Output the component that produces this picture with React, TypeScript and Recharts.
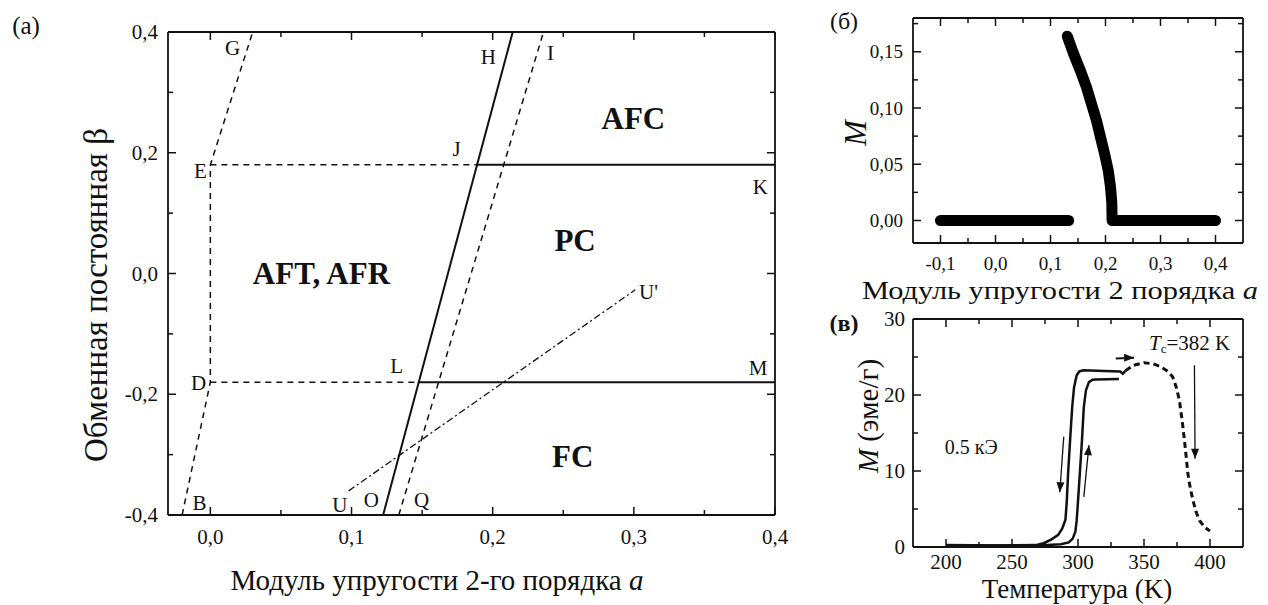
import React from 'react';
import { ComposedChart, Line, Scatter, XAxis, YAxis } from 'recharts';

const SERIF = '"Liberation Serif", "Times New Roman", serif';
const INK = '#111';

// ---- (a) phase diagram: beta vs a ----
const aXMajor = [0, 0.1, 0.2, 0.3, 0.4];
const aXTicks = [0, 0.05, 0.1, 0.15, 0.2, 0.25, 0.3, 0.35, 0.4];
const aYMajor = [-0.4, -0.2, 0, 0.2, 0.4];
const aYTicks = [-0.4, -0.3, -0.2, -0.1, 0, 0.1, 0.2, 0.3, 0.4];

const lineBDEG = [{ x: -0.02, y: -0.4 }, { x: 0, y: -0.18 }, { x: 0, y: 0.18 }, { x: 0.03, y: 0.4 }];
const lineEJ = [{ x: 0, y: 0.18 }, { x: 0.188, y: 0.18 }];
const lineJK = [{ x: 0.188, y: 0.18 }, { x: 0.4, y: 0.18 }];
const lineDL = [{ x: 0, y: -0.18 }, { x: 0.147, y: -0.18 }];
const lineLM = [{ x: 0.147, y: -0.18 }, { x: 0.4, y: -0.18 }];
const lineOH = [{ x: 0.1224, y: -0.4 }, { x: 0.2142, y: 0.4 }];
const lineQI = [{ x: 0.1335, y: -0.4 }, { x: 0.236, y: 0.4 }];
const lineUU = [{ x: 0.098, y: -0.36 }, { x: 0.301, y: -0.027 }];

const pointLabels = [
  { x: 0.0158, y: 0.373, t: 'G' },
  { x: 0.197, y: 0.358, t: 'H' },
  { x: 0.241, y: 0.366, t: 'I' },
  { x: -0.007, y: 0.17, t: 'E' },
  { x: 0.1745, y: 0.207, t: 'J' },
  { x: 0.3896, y: 0.143, t: 'K' },
  { x: -0.0083, y: -0.181, t: 'D' },
  { x: 0.132, y: -0.154, t: 'L' },
  { x: 0.388, y: -0.157, t: 'M' },
  { x: -0.0076, y: -0.38, t: 'B' },
  { x: 0.0917, y: -0.383, t: 'U' },
  { x: 0.114, y: -0.375, t: 'O' },
  { x: 0.1496, y: -0.375, t: 'Q' },
  { x: 0.3104, y: -0.0304, t: "U'" },
];
const regionLabels = [
  { x: 0.2997, y: 0.256, t: 'AFC' },
  { x: 0.2584, y: 0.055, t: 'PC' },
  { x: 0.0787, y: 0.0, t: 'AFT, AFR' },
  { x: 0.2567, y: -0.303, t: 'FC' },
];

// ---- (б) M vs a ----
const bXMajor = [-0.1, 0, 0.1, 0.2, 0.3, 0.4];
const bXTicks = [-0.1, -0.05, 0, 0.05, 0.1, 0.15, 0.2, 0.25, 0.3, 0.35, 0.4];
const bYMajor = [0, 0.05, 0.1, 0.15];
const bYTicks = [0, 0.025, 0.05, 0.075, 0.1, 0.125, 0.15, 0.175];
const mZero = [{ x: -0.1, y: 0 }, { x: 0.133, y: 0 }];
const mBranch = [
  { x: 0.1304, y: 0.1638 }, { x: 0.1424, y: 0.1477 }, { x: 0.1545, y: 0.133 }, { x: 0.1655, y: 0.1183 },
  { x: 0.1745, y: 0.1036 }, { x: 0.1836, y: 0.0889 }, { x: 0.1909, y: 0.0741 }, { x: 0.1982, y: 0.0595 },
  { x: 0.2049, y: 0.0447 }, { x: 0.2091, y: 0.03 }, { x: 0.2115, y: 0.0154 }, { x: 0.212, y: 0 },
  { x: 0.4, y: 0 },
];

// ---- (в) M vs T ----
const cXMajor = [200, 250, 300, 350, 400];
const cXTicks = [200, 225, 250, 275, 300, 325, 350, 375, 400];
const cYMajor = [0, 10, 20, 30];
const cYTicks = [0, 5, 10, 15, 20, 25, 30];
const cooling = [
  { x: 200, y: 0.25 }, { x: 240, y: 0.2 }, { x: 268, y: 0.25 }, { x: 274, y: 0.5 }, { x: 280, y: 1.0 },
  { x: 285, y: 1.6 }, { x: 288, y: 2.4 }, { x: 290.5, y: 3.6 }, { x: 291.5, y: 6 }, { x: 292.5, y: 9.7 },
  { x: 294, y: 14 }, { x: 295.6, y: 18.4 }, { x: 297, y: 21 }, { x: 299, y: 22.6 }, { x: 301, y: 23.1 },
  { x: 304, y: 23.25 }, { x: 320, y: 23.15 }, { x: 332, y: 23.1 }, { x: 334, y: 22.8 }, { x: 336, y: 23.2 },
];
const heating = [
  { x: 200, y: 0.2 }, { x: 270, y: 0.2 }, { x: 287, y: 0.35 }, { x: 293, y: 0.6 }, { x: 296, y: 1.1 },
  { x: 298, y: 2 }, { x: 299, y: 3.5 }, { x: 300, y: 6 }, { x: 301.4, y: 9.7 }, { x: 303, y: 14 },
  { x: 304.4, y: 18.4 }, { x: 306, y: 20.6 }, { x: 308.3, y: 21.7 }, { x: 311, y: 22.0 },
  { x: 313.4, y: 22.05 }, { x: 331, y: 22.1 },
];
const aboveTc = [
  { x: 336, y: 23.2 }, { x: 342, y: 23.9 }, { x: 350, y: 24.25 }, { x: 357, y: 24.1 }, { x: 363, y: 23.7 },
  { x: 368, y: 23.1 }, { x: 371.7, y: 22.4 }, { x: 374.5, y: 21 }, { x: 376.8, y: 19.3 }, { x: 379, y: 16.5 },
  { x: 380.6, y: 14.1 }, { x: 382, y: 11.8 }, { x: 383.2, y: 9.7 }, { x: 385, y: 7.8 }, { x: 387, y: 6.2 },
  { x: 389.5, y: 4.6 }, { x: 392, y: 3.5 }, { x: 396, y: 2.6 }, { x: 400, y: 2.1 },
];
const arrowCool = [{ x: 289.2, y: 14.5 }, { x: 286.2, y: 7.2 }];
const arrowHeat = [{ x: 304.4, y: 6.6 }, { x: 308.3, y: 13.4 }];
const arrowRight = [{ x: 328.6, y: 24.8 }, { x: 342.5, y: 24.9 }];
const arrowTc = [{ x: 388.2, y: 23.9 }, { x: 388.7, y: 11.6 }];
const arrowHeads = [
  { x: 286.2, y: 7.2, ang: 94 },
  { x: 308.3, y: 13.4, ang: -84 },
  { x: 342.5, y: 24.9, ang: 0 },
  { x: 388.7, y: 11.6, ang: 90 },
];
const cNotes = [
  { x: 353.8, y: 26.8, t: 'tc' },
  { x: 199, y: 13.1, t: '0.5 кЭ' },
];

type Side = 'bottom' | 'left' | 'top' | 'right';

function tickRenderer(side: Side, majors: number[], fmt: ((v: number) => string) | null, fontSize: number, gap: number) {
  return (props: any) => {
    const { x, y, payload } = props;
    const v = payload.value;
    const major = majors.some((m) => Math.abs(m - v) < 1e-9);
    const len = major ? 8 : 5;
    let l = { x2: x, y2: y };
    if (side === 'bottom') l = { x2: x, y2: y - len };
    if (side === 'top') l = { x2: x, y2: y + len };
    if (side === 'left') l = { x2: x + len, y2: y };
    if (side === 'right') l = { x2: x - len, y2: y };
    return (
      <g>
        <line x1={x} y1={y} x2={l.x2} y2={l.y2} stroke={INK} strokeWidth={1.5} />
        {major && fmt && side === 'bottom' && (
          <text x={x} y={y + gap} textAnchor="middle" dominantBaseline="central" fontFamily={SERIF} fontSize={fontSize} fill={INK}>
            {fmt(v)}
          </text>
        )}
        {major && fmt && side === 'left' && (
          <text x={x - gap} y={y} textAnchor="end" dominantBaseline="central" fontFamily={SERIF} fontSize={fontSize} fill={INK}>
            {fmt(v)}
          </text>
        )}
      </g>
    );
  };
}

const comma = (d: number) => (v: number) => v.toFixed(d).replace('.', ',');
const plain = (v: number) => String(v);

const axisLine = { stroke: INK, strokeWidth: 1.8 };

function Frame(p: {
  xDomain: [number, number]; yDomain: [number, number];
  xTicks: number[]; xMajor: number[]; yTicks: number[]; yMajor: number[];
  xFmt: (v: number) => string; yFmt: (v: number) => string; fontSize: number; xGap: number; yGap: number;
}) {
  return [
    <XAxis key="xb" xAxisId="b" type="number" dataKey="x" domain={p.xDomain} allowDataOverflow ticks={p.xTicks} interval={0}
      height={40} tickSize={0} tickMargin={0} tickLine={false} axisLine={axisLine}
      tick={tickRenderer('bottom', p.xMajor, p.xFmt, p.fontSize, p.xGap)} />,
    <XAxis key="xt" xAxisId="t" orientation="top" type="number" dataKey="x" domain={p.xDomain} allowDataOverflow ticks={p.xTicks} interval={0}
      height={5} tickSize={0} tickMargin={0} tickLine={false} axisLine={axisLine}
      tick={tickRenderer('top', p.xMajor, null, p.fontSize, 0)} />,
    <YAxis key="yl" yAxisId="l" type="number" dataKey="y" domain={p.yDomain} allowDataOverflow ticks={p.yTicks} interval={0}
      width={60} tickSize={0} tickMargin={0} tickLine={false} axisLine={axisLine}
      tick={tickRenderer('left', p.yMajor, p.yFmt, p.fontSize, p.yGap)} />,
    <YAxis key="yr" yAxisId="r" orientation="right" type="number" dataKey="y" domain={p.yDomain} allowDataOverflow ticks={p.yTicks} interval={0}
      width={5} tickSize={0} tickMargin={0} tickLine={false} axisLine={axisLine}
      tick={tickRenderer('right', p.yMajor, null, p.fontSize, 0)} />,
  ];
}

function seg(key: string, data: { x: number; y: number }[], width: number, dash?: string) {
  return (
    <Line key={key} xAxisId="b" yAxisId="l" data={data} dataKey="y" type="linear" stroke={INK} strokeWidth={width}
      strokeDasharray={dash} dot={false} activeDot={false} isAnimationActive={false} />
  );
}

const labelShape = (size: number, bold: boolean) => (p: any) => (
  <text x={p.cx} y={p.cy} textAnchor="middle" dominantBaseline="central" fontFamily={SERIF}
    fontSize={size} fontWeight={bold ? 'bold' : 'normal'} fill={INK}>
    {p.payload.t}
  </text>
);

const noteShape = (p: any) =>
  p.payload.t === 'tc' ? (
    <text x={p.cx} y={p.cy} dominantBaseline="central" fontFamily={SERIF} fontSize={21} fill={INK}>
      <tspan fontStyle="italic">T</tspan>
      <tspan fontSize={13} dy={5}>c</tspan>
      <tspan dy={-5}>=382 K</tspan>
    </text>
  ) : (
    <text x={p.cx} y={p.cy} dominantBaseline="central" fontFamily={SERIF} fontSize={20} fill={INK}>
      {p.payload.t}
    </text>
  );

const headShape = (p: any) => (
  <polygon points="0,0 -10,-4 -10,4" fill={INK} transform={`translate(${p.cx},${p.cy}) rotate(${p.payload.ang})`} />
);

const txt = (style: React.CSSProperties, sx = 1): React.CSSProperties => ({
  position: 'absolute', fontFamily: SERIF, color: INK, whiteSpace: 'nowrap', lineHeight: 1,
  ...style, transform: `translate(-50%,-50%) scaleX(${sx})`,
});
const rot = (style: React.CSSProperties, sx = 1): React.CSSProperties => ({
  ...txt(style), transform: `translate(-50%,-50%) rotate(-90deg) scaleX(${sx})`,
});

export default function App() {
  return (
    <div style={{ position: 'absolute', left: 0, top: 0, width: 1268, height: 605, background: '#fff', overflow: 'hidden' }}>
      <div style={{ position: 'absolute', left: 0, top: 0 }}>
        <ComposedChart width={800} height={605} margin={{ top: 27, right: 20, bottom: 50, left: 108 }}>
          {Frame({
            xDomain: [-0.03, 0.4], yDomain: [-0.4, 0.4], xTicks: aXTicks, xMajor: aXMajor, yTicks: aYTicks, yMajor: aYMajor,
            xFmt: comma(1), yFmt: comma(1), fontSize: 21, xGap: 22, yGap: 10,
          })}
          {seg('bdeg', lineBDEG, 1.5, '6 5')}
          {seg('ej', lineEJ, 1.5, '6 5')}
          {seg('jk', lineJK, 2)}
          {seg('dl', lineDL, 1.5, '6 5')}
          {seg('lm', lineLM, 2)}
          {seg('oh', lineOH, 2)}
          {seg('qi', lineQI, 1.5, '6 5')}
          {seg('uu', lineUU, 1.3, '7 3 2 3')}
          <Scatter xAxisId="b" yAxisId="l" data={pointLabels} shape={labelShape(21, false)} isAnimationActive={false} />
          <Scatter xAxisId="b" yAxisId="l" data={regionLabels} shape={labelShape(31, true)} isAnimationActive={false} />
        </ComposedChart>
      </div>

      <div style={{ position: 'absolute', left: 800, top: 0 }}>
        <ComposedChart width={468} height={300} margin={{ top: 13, right: 20, bottom: 17, left: 53 }}>
          {Frame({
            xDomain: [-0.15, 0.45], yDomain: [-0.02, 0.18], xTicks: bXTicks, xMajor: bXMajor, yTicks: bYTicks, yMajor: bYMajor,
            xFmt: comma(1), yFmt: comma(2), fontSize: 19, xGap: 20, yGap: 10,
          })}
          <Line xAxisId="b" yAxisId="l" data={mZero} dataKey="y" stroke="#000" strokeWidth={11} strokeLinecap="round"
            dot={false} activeDot={false} isAnimationActive={false} />
          <Line xAxisId="b" yAxisId="l" data={mBranch} dataKey="y" stroke="#000" strokeWidth={11} strokeLinecap="round"
            strokeLinejoin="round" dot={false} activeDot={false} isAnimationActive={false} />
        </ComposedChart>
      </div>

      <div style={{ position: 'absolute', left: 800, top: 300 }}>
        <ComposedChart width={468} height={305} margin={{ top: 14, right: 20, bottom: 18, left: 53 }}>
          {Frame({
            xDomain: [175, 425], yDomain: [0, 30], xTicks: cXTicks, xMajor: cXMajor, yTicks: cYTicks, yMajor: cYMajor,
            xFmt: plain, yFmt: plain, fontSize: 21, xGap: 15, yGap: 8,
          })}
          {seg('cool', cooling, 2.5)}
          {seg('heat', heating, 2.5)}
          {seg('tc', aboveTc, 3, '6 4')}
          {seg('a1', arrowCool, 1.3)}
          {seg('a2', arrowHeat, 1.3)}
          {seg('a3', arrowRight, 2)}
          {seg('a4', arrowTc, 1.3)}
          <Scatter xAxisId="b" yAxisId="l" data={arrowHeads} shape={headShape} isAnimationActive={false} />
          <Scatter xAxisId="b" yAxisId="l" data={cNotes} shape={noteShape} isAnimationActive={false} />
        </ComposedChart>
      </div>

      <div style={txt({ left: 26, top: 25, fontSize: 25 })}>(a)</div>
      <div style={txt({ left: 437, top: 580, fontSize: 29 })}>
        Модуль упругости 2-го порядка <i>a</i>
      </div>
      <div style={rot({ left: 96, top: 295, fontSize: 33 })}>Обменная постоянная β</div>

      <div style={txt({ left: 844, top: 21, fontSize: 24 })}>(б)</div>
      <div style={txt({ left: 1060, top: 291, fontSize: 26 }, 1.17)}>
        Модуль упругости 2 порядка <i>a</i>
      </div>
      <div style={rot({ left: 855, top: 133, fontSize: 31 })}>
        <i>M</i>
      </div>

      <div style={txt({ left: 844, top: 323, fontSize: 24, fontWeight: 'bold' })}>(в)</div>
      <div style={txt({ left: 1077, top: 589, fontSize: 27 })}>Температура (K)</div>
      <div style={rot({ left: 868, top: 416, fontSize: 29 })}>
        <i>M</i> (эме/г)
      </div>
    </div>
  );
}
